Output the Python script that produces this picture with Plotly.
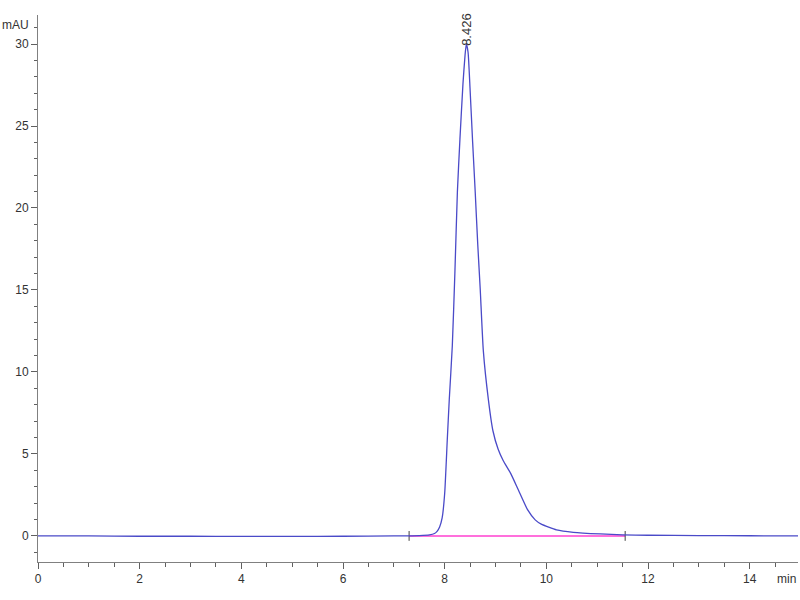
import plotly.graph_objects as go

# Chromatogram signal (time in min, signal in mAU)
time_min = [0.0, 1.0, 2.0, 3.0, 4.0, 5.0, 6.0, 7.0, 7.5, 7.7, 7.8, 7.85, 7.9, 7.95,
            8.0, 8.05, 8.09, 8.15, 8.2, 8.25, 8.3, 8.36, 8.4, 8.426, 8.46, 8.5, 8.55,
            8.6, 8.65, 8.7, 8.76, 8.86, 8.95, 9.05, 9.15, 9.3, 9.45, 9.63, 9.78, 9.9,
            10.2, 10.53, 11.06, 11.5, 12.0, 13.0, 14.0, 15.0]
signal_mau = [0.0, 0.0, -0.02, -0.02, -0.03, -0.03, -0.02, 0.0, 0.02, 0.06, 0.15, 0.28, 0.55, 1.1,
              2.6, 5.8, 8.3, 11.6, 16.0, 21.0, 24.2, 27.6, 29.3, 30.0, 29.5, 27.2, 24.0,
              21.0, 17.8, 15.0, 11.3, 8.3, 6.4, 5.3, 4.6, 3.8, 2.8, 1.6, 0.98, 0.72,
              0.37, 0.22, 0.12, 0.07, 0.04, 0.02, 0.01, 0.0]

# Integration baseline
baseline_x = [7.30, 11.55]
baseline_y = [0.0, 0.0]

# Peak annotation
peak_rt = [8.426]
peak_height = [30.0]
peak_labels = ["8.426"]

x_ticks = [0, 2, 4, 6, 8, 10, 12, 14]
y_ticks = [0, 5, 10, 15, 20, 25, 30]

fig = go.Figure()
fig.add_trace(go.Scatter(
    x=baseline_x, y=baseline_y, mode="lines+markers",
    line=dict(color="#ff40d0", width=1.5),
    marker=dict(symbol="line-ns-open", size=7, color="#404040", line=dict(width=1, color="#404040")),
    hoverinfo="skip", showlegend=False))
fig.add_trace(go.Scatter(
    x=time_min, y=signal_mau, mode="lines",
    line=dict(color="#4a4ac8", width=1.3, shape="spline", smoothing=0.5),
    showlegend=False))

for rt, h, lab in zip(peak_rt, peak_height, peak_labels):
    fig.add_annotation(x=rt, y=h, text=lab, textangle=-90, showarrow=False,
                       xanchor="center", yanchor="bottom", yshift=-4,
                       font=dict(family="Liberation Sans, Arial", size=13, color="#333333"))

fig.add_annotation(xref="paper", yref="paper", x=0, y=1, text="mAU", showarrow=False,
                   xanchor="right", yanchor="middle", xshift=-7, yshift=-10,
                   font=dict(family="Liberation Sans, Arial", size=12, color="#333333"))
fig.add_annotation(xref="paper", yref="paper", x=1, y=0, text="min", showarrow=False,
                   xanchor="right", yanchor="top", xshift=0, yshift=-8,
                   font=dict(family="Liberation Sans, Arial", size=12, color="#333333"))

axis_font = dict(family="Liberation Sans, Arial", size=12, color="#333333")
fig.update_xaxes(range=[0, 14.95], tickvals=x_ticks, ticktext=[str(v) for v in x_ticks],
                 showgrid=False, zeroline=False, showline=True, linecolor="#808080", linewidth=1,
                 ticks="outside", ticklen=6, tickcolor="#606060", tickfont=axis_font,
                 minor=dict(dtick=0.5, ticks="outside", ticklen=4, tickcolor="#606060", showgrid=False))
fig.update_yaxes(range=[-1.59, 31.77], tickvals=y_ticks, ticktext=[str(v) for v in y_ticks],
                 showgrid=False, zeroline=False, showline=True, linecolor="#808080", linewidth=1,
                 ticks="outside", ticklen=6, tickcolor="#606060", tickfont=axis_font,
                 minor=dict(dtick=1, ticks="outside", ticklen=3, tickcolor="#606060", showgrid=False))

fig.update_layout(width=800, height=600, plot_bgcolor="white", paper_bgcolor="white",
                  margin=dict(l=38, r=2, t=15, b=38))
fig.write_html("out.html", config={"displayModeBar": False},
               post_script="document.body.style.margin='0';document.body.style.overflow='hidden';")
